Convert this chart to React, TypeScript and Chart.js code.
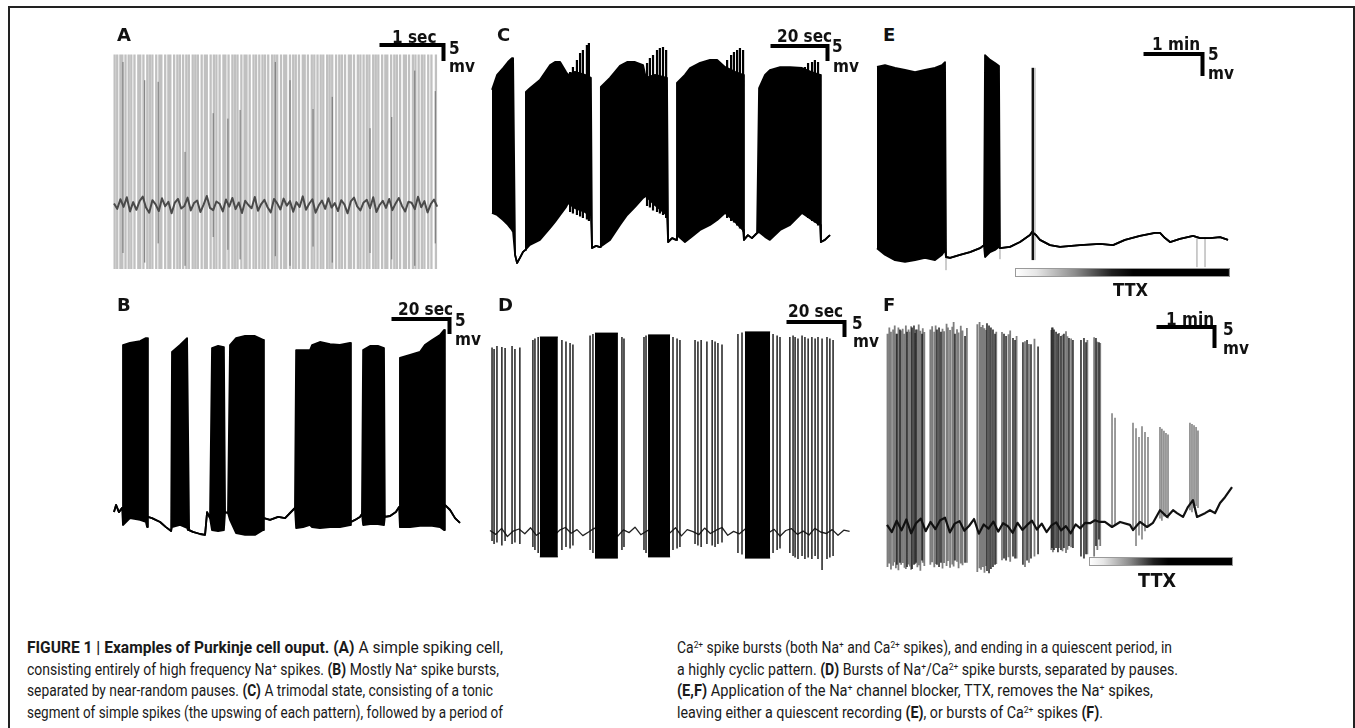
import React, { useEffect, useLayoutEffect, useRef } from "react";
import { Chart, registerables } from "chart.js";
Chart.register(...registerables);

// ======================= DATA =======================
// Scale bars (A..F): time length and voltage length
const scaleBarTime = [1, 20, 20, 20, 60, 60]; // s
const scaleBarMv = [5, 5, 5, 5, 5, 5]; // mV

// ---- Panel A: simple spiking (time in s, voltage in mV rel. baseline)
const aSpikeTimes = [
  0.01, 0.05, 0.1, 0.13, 0.18, 0.23, 0.27, 0.32, 0.38, 0.41, 0.46, 0.52, 0.56, 0.6, 0.66, 0.71, 0.74, 0.8, 0.85, 0.88,
  0.94, 0.99, 1.03, 1.08, 1.13, 1.17, 1.23, 1.27, 1.31, 1.37, 1.42, 1.45, 1.51, 1.56, 1.6, 1.65, 1.71, 1.74, 1.79, 1.85,
  1.89, 1.93, 1.99, 2.04, 2.07, 2.12, 2.18, 2.22, 2.27, 2.32, 2.36, 2.41, 2.47, 2.51, 2.55, 2.61, 2.66, 2.69, 2.75, 2.8,
  2.84, 2.89, 2.95, 2.98, 3.03, 3.09, 3.13, 3.18, 3.23, 3.27, 3.33, 3.37, 3.41, 3.47, 3.52, 3.56, 3.61, 3.67, 3.7, 3.75,
  3.81, 3.85, 3.9, 3.95, 3.99, 4.05, 4.09, 4.13, 4.19, 4.24, 4.27, 4.33, 4.38, 4.42, 4.47, 4.53, 4.56, 4.61, 4.67, 4.71,
  4.76, 4.81, 4.85, 4.91, 4.96, 5.03,
];
const aSpikePeak = 47;
const aSpikeTrough = -20;
const aDarkSpikeTimes = [0.14, 0.48, 0.69, 1.11, 1.55, 1.78, 1.97, 2.52, 2.75, 3.11, 3.41, 4.0, 4.34, 4.7, 5.02];
const aDarkSpikePeaks = [44.7, 39, 38.5, 16.6, 28.7, 27, 29.7, 44.7, 39, 30, 33.8, 24, 27.5, 42, 35.6];
const aDarkSpikeTroughs = [-15, -18, -12, -19, -10, -14, -17, -16, -19, -13, -18, -15, -17, -19, -12];
const aBaselineStep = 0.05; // s between samples
const aBaseline = [
  0.5, -1.2, 1.8, -0.6, 2.4, -2.0, 0.9, -1.5, 1.2, 2.6, -0.8, -2.4, 1.5, 0.2, -1.9, 2.1, -0.4, 1.0, -2.6, 0.7,
  1.9, -1.1, -0.3, 2.3, -1.7, 0.6, 1.4, -2.2, 0.1, 2.8, -0.9, -1.6, 1.1, 0.4, -2.0, 1.7, -0.5, 2.2, -1.3, 0.8,
  -2.5, 1.3, 0.0, -1.0, 2.5, -1.8, 0.3, 1.6, -0.7, -2.3, 1.9, 0.5, -1.4, 2.0, -0.2, 1.2, -2.1, 0.9, -0.6, 2.7,
  -1.5, 0.4, 1.8, -2.4, -0.1, 1.4, -1.2, 2.1, -0.8, 0.6, -1.9, 1.5, 0.2, -2.6, 1.1, 2.3, -0.4, -1.7, 0.8, 1.6,
  -1.0, 2.4, -2.2, 0.0, 1.3, -0.9, 1.9, -1.6, 0.5, 2.2, -0.3, -2.0, 1.0, 0.7, -1.3, 2.6, -0.7, 1.2, -2.3, 0.3,
  1.7, -0.5,
];

// ---- Panel B: burst envelope (s, mV)
const bTime = [
  0, 0.7, 1.7, 2.8, 3.1, 5.5, 9.0, 11.0, 11.4, 11.7, 13.1, 15.9, 17.9, 19.7, 20.0, 22.8, 25.2, 25.5, 25.9, 27.2,
  29.7, 31.4, 32.1, 33.1, 33.8, 35.9, 37.9, 38.3, 39.3, 40.0, 42.1, 45.2, 48.6, 51.4, 51.7, 53.8, 56.6, 59.0, 61.7, 62.4,
  62.8, 65.2, 67.6, 68.3, 71.0, 74.5, 77.9, 81.4, 81.7, 83.1, 84.8, 85.5, 85.9, 88.3, 91.0, 93.1, 93.4, 95.2, 97.2, 98.3,
  98.6, 102.1, 105.5, 107.2, 109.7, 112.4, 113.8, 114.1, 115.9, 117.6, 119.3,
];
const bUpper = [
  4.3, 6.7, 4.3, 5.7, 60, 60.7, 61.3, 62.3, 62.3, 2.7, 2.3, 1, -0.7, -2, 57.7, 60, 62.3, 62.3, -1.7, -2.3,
  -3, -3.3, 4.3, 2.3, 59, 59.7, 59.3, 4.3, 4, 60, 62.3, 63, 63, 61.7, 2.3, 1.7, 2.7, 2.3, 5, 5.7,
  58.3, 58.3, 58.3, 60, 61, 60.3, 60, 60.7, 1, 1.7, 2.7, 3.7, 58.3, 59.7, 59.7, 59, 2.7, 3, 4.3, 6,
  55.7, 56.7, 57.7, 60, 61.7, 63.3, 65, 6.7, 5, 2.3, 0.7,
];
const bLower = [
  4.3, 6.7, 4.3, 5.7, 0, 2.3, 1.7, 1, -0.7, 2.7, 2.3, 1, -0.7, -2, -0.7, 0, -1, -1.7, -1.7, -2.3,
  -3, -3.3, 4.3, 2.3, -1.7, -2, -1.7, 4.3, 4, 1.7, -2.7, -3.3, -3.3, -1.7, 2.3, 1.7, 2.7, 2.3, 5, 5.7,
  -1, -0.7, 0, -0.7, -1, -0.7, -0.7, 0, 1, 1.7, 2.7, 3.7, 0, 0.3, 0.3, 0, 2.7, 3, 4.3, 6,
  -0.7, -0.7, -0.3, -0.3, -0.3, -0.7, -1.7, 6.7, 5, 2.3, 0.7,
];

// ---- Panel C: trimodal envelope (s, mV) + Ca2+ burst spikes
const cTime = [
  0, 1.8, 3.9, 5.6, 7.0, 7.4, 8.1, 8.8, 9.8, 10.9, 11.6, 11.9, 13.3, 16.8, 20.4, 22.1, 23.9, 26.0, 26.7, 29.1,
  32.6, 34.7, 35.1, 36.5, 37.9, 38.2, 41.4, 44.9, 47.4, 50.2, 53.0, 54.0, 57.2, 61.4, 61.8, 63.2, 64.6, 64.9, 67.7, 69.5,
  73.0, 76.5, 79.0, 81.8, 85.3, 88.1, 88.4, 89.8, 91.2, 93.0, 93.7, 95.8, 97.5, 101.1, 104.6, 108.8, 111.9, 115.1, 115.4, 116.8,
  117.9, 118.6,
];
const cUpper = [
  57.7, 62.7, 65, 67, 68.3, 68.3, 2.7, 0, 1.7, 3.7, 4.3, 57, 58.3, 61, 66, 67, 67, 63.7, 62.7, 63.7,
  62.7, 61.7, 5, 5.7, 5.3, 58.7, 61.7, 65.7, 67, 67, 66, 61.7, 62.7, 61.7, 7, 8.3, 7.7, 60, 62.7, 65,
  66.7, 67.7, 67.7, 65.3, 63.7, 62.7, 7.7, 9.3, 8.3, 10, 58.3, 62.7, 64.3, 65.3, 65.3, 65, 63.7, 62.7, 7, 7.7,
  8.7, 9.3,
];
const cLower = [
  16.7, 16, 14.3, 12.7, 11, 10.3, 2.7, 0, 1.7, 3.7, 4.3, 4.3, 6, 7.7, 11.7, 13.7, 16, 18.7, 20, 18.3,
  17, 15.7, 5, 5.7, 5.3, 5.3, 7.7, 12.7, 16, 18.7, 21.7, 22.3, 19.3, 16, 7, 8.3, 7.7, 9.3, 7, 8.3,
  11, 12.7, 14.3, 16.7, 13.7, 11, 7.7, 9.3, 8.3, 10, 10.3, 8.7, 7.7, 11, 12.7, 16.7, 14.7, 12.7, 7, 7.7,
  8.7, 9.3,
];
const cSpikeTimes = [
  27.4, 28.4, 29.8, 30.9, 31.9, 33.3, 34.0, 54.4, 55.4, 56.5, 57.9, 58.9, 60.0, 61.1,
  82.5, 83.9, 84.9, 86.0, 87.0, 88.1, 109.8, 110.9, 112.3, 113.3, 114.4,
];
const cSpikePeaks = [
  63.7, 65.3, 67.7, 70, 71, 72.7, 73.3, 66.7, 68.3, 69.3, 71, 71.7, 72, 71,
  67.7, 69.3, 70.3, 71, 71.7, 71, 65.3, 66.7, 67, 67.7, 67,
];
const cSpikeTroughs = [
  17, 16.5, 16, 15.5, 15, 14.5, 14, 19, 18.5, 17.5, 17, 16.5, 16, 15,
  15, 14, 13.5, 12.5, 11.5, 10.5, 16, 15, 14, 13.5, 12.5,
];

// ---- Panel D: spikes + dense burst cores (s, mV)
const dSpikeTimes = [
  0.7, 1.4, 2.4, 4.1, 5.2, 7.6, 8.6, 10.3,
  14.8, 15.5, 16.6, 24.8, 26.2, 27.6, 28.6,
  34.5, 35.5, 45.5, 46.2,
  53.1, 53.8, 63.1, 64.5, 65.5, 70.7, 71.7, 72.8, 74.8, 76.6, 77.6, 78.6, 80.0,
  85.5, 86.9, 97.6, 99.0, 100.0,
  103.4, 104.5, 105.2, 106.2, 107.6, 108.6, 109.7, 111.0, 112.1, 113.1, 114.5, 116.2, 117.2, 118.3,
];
const dSpikePeaks = [
  61.5, 61, 62, 61.7, 61.3, 62, 61, 61.5,
  64, 64.5, 65, 64, 63.5, 63, 62.5,
  65.5, 66, 65, 64.5,
  65, 65.5, 65, 64.5, 64, 64, 63.5, 64, 63.5, 64, 63.5, 63, 62.5,
  66, 66.5, 66, 65.5, 65,
  65, 65.5, 65, 64.5, 65.5, 65, 64.5, 65, 64.5, 65, 64.5, 65, 64.5, 64,
];
const dSpikeTroughs = [
  -3, -4, -3.5, -4.5, -3, -4, -3.5, -4,
  -5, -6, -7, -6, -5, -5.5, -4.5,
  -6, -7, -6, -5,
  -6, -7, -6, -5.5, -5, -4, -4.5, -5, -4, -4.5, -5, -4, -3.5,
  -7, -7.5, -7, -6, -5.5,
  -7, -8, -8.5, -9, -8, -9, -8.5, -9, -8, -9, -12.7, -9, -8.5, -8,
];
const dCoreStart = [17.2, 36.2, 54.5, 87.9];
const dCoreEnd = [23.4, 44.1, 62.1, 96.6];
const dCorePeak = [65, 66.3, 65.7, 66.7];
const dCoreTrough = [-8.3, -8.7, -8.3, -8.7];
const dBaselineStep = 2; // s
const dBaseline = [
  0.5, -0.8, 1.2, -1.5, 0.3, 1.0, -0.6, 1.4, -1.1, 0.2, 0.9, -1.3, 0.6, 1.5, -0.4, 0.8, -1.2, 0.0, 1.3, -0.7,
  0.4, 1.1, -1.4, 0.7, -0.2, 1.6, -0.9, 0.3, 1.2, -1.0, 0.5, -0.3, 1.4, -1.3, 0.8, 0.1, -0.9, 1.3, -0.5, 0.6,
  1.5, -1.1, 0.2, -0.6, 1.0, 0.4, -1.2, 1.3, -0.3, 0.9, -1.4, 0.5, 1.1, -0.8, 0.3, -1.0, 1.2, 0.0, -0.5, 0.8,
  -1.1, 0.6, 0.2,
];

// ---- Panel E: TTX abolishes firing (s, mV)
const eTime = [
  0, 8.1, 18.3, 28.5, 38.7, 48.8, 59.0, 66.1, 69.2, 70.2, 74.3, 84.4, 94.6, 104.8, 108.8, 109.9, 115.0, 120.0, 124.1, 125.1,
  135.3, 145.5, 155.6, 157.7, 161.7, 165.8, 176.0, 186.2, 206.5, 226.9, 240.1, 252.3, 267.5, 282.8, 287.9, 293.0, 298.1, 308.2, 321.5, 328.7,
  338.8, 349.0, 357.1,
];
const eUpper = [
  43.2, 43.6, 43, 42.5, 42, 42.5, 43, 43.6, 44.3, 0, -0.2, 0.5, 1.1, 2, 2.7, 45.9, 44.8, 44.1, 43.4, 2,
  2.3, 3.4, 5, 5.7, 5, 3.9, 2.7, 2.3, 2.7, 3, 2.7, 3.9, 4.8, 5.5, 5.5, 4.3, 3.4, 4.1, 4.8, 4.3,
  4.3, 4.5, 3.9,
];
const eLower = [
  2, 0.5, -0.7, -1.1, -0.7, -0.2, -0.7, 0.5, 1.6, 0, -0.2, 0.5, 1.1, 2, 2.7, 0, 1.1, 1.6, 2.3, 2,
  2.3, 3.4, 5, 5.7, 5, 3.9, 2.7, 2.3, 2.7, 3, 2.7, 3.9, 4.8, 5.5, 5.5, 4.3, 3.4, 4.1, 4.8, 4.3,
  4.3, 4.5, 3.9,
];
const eSpikeTimes = [158.7];
const eSpikePeaks = [43];
const eSpikeTroughs = [-0.7];
const eFaintTimes = [70.2, 125.1, 157.2, 160.7, 325.5, 333.7];
const eFaintPeaks = [1.6, 2, 43, 43, 4.3, 4.5];
const eFaintTroughs = [-3, -0.5, -0.7, -0.7, -2.3, -2.3];
const eTTX = [140.4, 359]; // s

// ---- Panel F: TTX leaves Ca2+ bursts (s, mV)
const fGraySpikeTimes = [
  0.5, 2.4, 4.1, 6.3, 8.0, 9.2, 11.8, 14.6, 16.2, 18.1, 19.5, 22.3, 23.8, 24.9, 29.1, 31.4, 32.8, 34.5, 37.0, 38.6,
  44.8, 46.7, 48.9, 50.3, 57.4, 59.1, 61.6, 63.0, 65.2, 67.5, 68.9, 72.4, 74.0, 76.3, 78.1, 82.6,
  93.4, 95.7, 97.2, 99.0, 100.8, 102.1, 113.0,
  118.9, 125.6, 127.4, 134.0,
  142.7, 146.8, 152.5,
  169.9, 171.6, 178.0, 181.5, 185.1, 186.6, 190.4,
  207.2, 214.2, 217.5, 220.5,
];
const fGraySpikePeaks = [
  46, 47.5, 46.5, 47, 48, 46, 47.5, 46.8, 47.2, 46, 48, 47, 46.5, 47.8, 46.2, 47, 48.2, 46.7, 47.3, 46.4,
  47, 47.8, 46.5, 48, 47.2, 46.6, 48.4, 47.5, 46.9, 47.7, 48.8, 47.1, 46.3, 47.9, 46.8, 47.4,
  48.3, 48.8, 47.6, 48.1, 47.3, 46.9, 46.5,
  46.4, 45.9, 46.8, 45.5,
  44.2, 43.6, 44.8,
  46.9, 47.5, 46.2, 45.8, 46.6, 45.4, 44.9,
  44.5, 45.2, 44.1, 43.8,
];
const fGraySpikeTroughs = [
  -9.5, -8.7, -10.1, -9.2, -8.4, -9.8, -10.3, -9.0, -8.6, -9.7, -10.0, -8.9, -9.4, -10.2, -8.8, -9.6, -9.1, -10.4, -8.5, -9.3,
  -9, -8.4, -9.6, -8.8, -9.9, -8.6, -9.3, -8.1, -9.7, -8.9, -9.4, -8.3, -9.8, -8.7, -9.1, -8.5,
  -10.7, -9.8, -10.2, -9.5, -10.9, -9.3, -8.8,
  -7.9, -7.2, -8.3, -7.5,
  -9.5, -8.5, -7,
  -5.5, -6, -5, -5.8, -6.2, -5.4, -4.8,
  -6.5, -7, -5.5, -4.5,
];
const fSpikeTimes = [
  10.3, 13.4, 20.7, 25.9, 27.9, 30.0, 36.2, 51.7, 53.8, 55.8, 70.3, 80.7, 103.4, 105.5, 107.5, 109.6, 111.7, 121.0, 123.1, 130.3,
  132.4, 140.6, 144.8, 148.9, 156.2, 170.6, 172.7, 174.8, 176.8, 179.9, 183.0, 188.2, 192.3, 200.6, 203.7, 205.8, 216.1, 219.2,
];
const fSpikePeaks = [
  46, 47, 46.5, 47.5, 48, 47, 46, 47, 47.5, 46.5, 46, 45.5, 48.5, 48, 47.5, 47, 46, 46, 45.5, 45,
  44.5, 44, 44.5, 43.5, 43, 47.5, 47, 46.5, 46, 45.5, 46, 45, 44.5, 44.5, 45, 44, 45, 44,
];
const fSpikeTroughs = [
  -9, -8.5, -9.5, -10, -9, -8.5, -8, -9, -9.5, -8.5, -8, -8.5, -10.5, -11, -10, -9.5, -9, -7.5, -8, -7,
  -7.5, -9, -8, -7.5, -6.5, -5, -5.5, -5, -6, -5.5, -5, -4.5, -5, -7, -7.5, -6.5, -4.5, -3,
];
const fCaSpikeTimes = [232.7, 235.8, 254.4, 257.5, 260.6, 263.7, 266.8, 269.9, 282.3, 284.3, 286.4, 288.5, 290.6, 313.3, 315.4, 317.5, 319.6, 321.6];
const fCaSpikePeaks = [27.1, 26, 24.8, 23.5, 21.4, 24, 22.6, 21.4, 23.8, 23.4, 22.9, 22.4, 22, 24.8, 24.5, 24.2, 23.8, 23];
const fCaSpikeTroughs = [0, 0.5, -1, -4.5, -2, -3, -1, 0, 2, 1.5, 2.5, 3, 2, 4, 3.5, 4.5, 5, 4.5];
const fBaseTime = [
  0, 5, 10, 15, 20, 25, 30, 35, 40, 45, 50, 55, 60, 65, 70, 75, 80, 85, 90, 95,
  100, 105, 110, 115, 120, 125, 130, 135, 140, 145, 150, 155, 160, 165, 170, 175, 180, 185, 190, 195,
  200, 205, 210, 215, 220, 225.4, 232.7, 241, 251.3, 254.4, 261.6, 268.9, 275.1, 282.3, 289.6, 295.8, 299.9, 306.1, 311.3, 316.4,
  320.6, 328.9, 334, 339.2, 344.4, 349.5, 356.8,
];
const fBaseV = [
  0.5, -1.2, 1.5, -0.8, 1.8, -1.5, 0.9, 2.0, -1.0, 1.2, -0.5, 1.6, 2.2, -1.3, 0.8, 1.4, -0.9, 0.3, 1.9, -1.6,
  0.6, -0.4, 1.3, -1.1, 0.9, 0.2, -1.4, 1.0, -0.7, 0.5, 1.5, -0.6, 0.8, -1.2, 0.4, 1.1, -0.8, 0.2, -1.5, 0.6,
  -0.3, 1.0, 0.9, 1.6, 1.2, 1.2, 0, 1.2, 0.5, -0.7, 1.2, 0, 1, 4, 2.4, 4, 3.3, 2.4, 4.8, 6.4,
  2.4, 3.3, 4, 3.3, 5.7, 7.1, 9.5,
];
const fTTX = [208.9, 357.8]; // s

// ======================= LAYOUT =======================
type Lay = {
  left: number; top: number; width: number; height: number;
  x0: number; y0: number; pxX: number; pxY: number; barX: number; barY: number; bar: number;
};
const LAY: Record<string, Lay> = {
  A: { left: 106, top: 38, width: 352, height: 240, x0: 114, y0: 205, pxX: 64, pxY: 3.2, barX: 443.5, barY: 45, bar: 0 },
  B: { left: 106, top: 305, width: 360, height: 240, x0: 114, y0: 525, pxX: 2.9, pxY: 3, barX: 449.5, barY: 319, bar: 1 },
  C: { left: 486, top: 38, width: 350, height: 235, x0: 492, y0: 263, pxX: 2.85, pxY: 3, barX: 827.5, barY: 46, bar: 2 },
  D: { left: 484, top: 310, width: 372, height: 265, x0: 490, y0: 532, pxX: 2.9, pxY: 3, barX: 844.5, barY: 322, bar: 3 },
  E: { left: 871, top: 45, width: 365, height: 240, x0: 877, y0: 257, pxX: 0.983, pxY: 4.4, barX: 1202.5, barY: 54, bar: 4 },
  F: { left: 880, top: 310, width: 360, height: 265, x0: 887, y0: 527, pxX: 0.967, pxY: 4.2, barX: 1214.5, barY: 327, bar: 5 },
};

// ======================= DATASET HELPERS =======================
const pts = (xs: number[], ys: number[]) => xs.map((x, i) => ({ x, y: ys[i] }));
const sampled = (vals: number[], step: number) => vals.map((v, i) => ({ x: i * step, y: v }));

function lineDs(data: any[], color: string, width: number, extra: any = {}) {
  return {
    type: "line", data, borderColor: color, borderWidth: width, pointRadius: 0, tension: 0,
    fill: false, spanGaps: false, borderJoinStyle: "round", ...extra,
  };
}
function envelope(t: number[], up: number[], lo: number[], color: string, width: number) {
  return [
    lineDs(pts(t, lo), color, width),
    lineDs(pts(t, up), color, width, { fill: "-1", backgroundColor: color }),
  ];
}
function spikes(t: number[], peaks: number[] | number, troughs: number[] | number, color: string, width: number) {
  const data: any[] = [];
  t.forEach((x, i) => {
    const p = Array.isArray(peaks) ? peaks[i] : peaks;
    const q = Array.isArray(troughs) ? troughs[i] : troughs;
    data.push({ x, y: q }, { x, y: p }, { x, y: null });
  });
  return lineDs(data, color, width, { borderCapStyle: "butt", borderJoinStyle: "miter" });
}
function blocks(s: number[], e: number[], pk: number[], tr: number[], color: string) {
  const out: any[] = [];
  s.forEach((x, i) => {
    out.push(...envelope([x, e[i]], [pk[i], pk[i]], [tr[i], tr[i]], color, 1));
  });
  return out;
}
function scaleBar(l: Lay) {
  const xd = (l.barX - l.x0) / l.pxX;
  const yd = (l.y0 - l.barY) / l.pxY;
  const len = scaleBarTime[l.bar];
  const mv = scaleBarMv[l.bar];
  return lineDs(
    [{ x: xd - len, y: yd }, { x: xd, y: yd }, { x: xd, y: yd - mv }],
    "#000", 4, { borderJoinStyle: "miter", borderCapStyle: "butt" }
  );
}

// ======================= CHART =======================
function TraceChart({ lay, build, ttx, ttxTop }: { lay: Lay; build: () => any[]; ttx?: number[]; ttxTop?: number }) {
  const ref = useRef<HTMLCanvasElement>(null);
  useEffect(() => {
    const canvas = ref.current;
    if (!canvas) return;
    const layers = build();
    const n = layers.length;
    const datasets = layers.map((d, i) => ({ ...d, order: n - i }));
    const plugins: any[] = [];
    if (ttx && ttxTop !== undefined) {
      plugins.push({
        id: "ttxBar",
        afterDatasetsDraw(chart: any) {
          const xs = chart.scales.x;
          const ctx = chart.ctx;
          const x1 = xs.getPixelForValue(ttx[0]);
          const x2 = xs.getPixelForValue(ttx[1]);
          const y = ttxTop - lay.top;
          const h = 9;
          const g = ctx.createLinearGradient(x1, 0, x2, 0);
          g.addColorStop(0, "#ffffff");
          g.addColorStop(0.1, "#e6e6e6");
          g.addColorStop(0.28, "#8c8c8c");
          g.addColorStop(0.45, "#1e1e1e");
          g.addColorStop(0.55, "#000000");
          g.addColorStop(1, "#000000");
          ctx.save();
          ctx.fillStyle = g;
          ctx.fillRect(x1, y, x2 - x1, h);
          ctx.strokeStyle = "#9a9a9a";
          ctx.lineWidth = 1;
          ctx.strokeRect(x1 + 0.5, y + 0.5, x2 - x1 - 1, h - 1);
          ctx.restore();
        },
      });
    }
    const chart = new Chart(canvas, {
      type: "line",
      data: { datasets } as any,
      options: {
        animation: false,
        responsive: false,
        devicePixelRatio: 1,
        events: [],
        layout: { padding: 0 },
        plugins: { legend: { display: false }, tooltip: { enabled: false } },
        scales: {
          x: {
            type: "linear", display: false,
            min: (lay.left - lay.x0) / lay.pxX,
            max: (lay.left + lay.width - lay.x0) / lay.pxX,
          },
          y: {
            type: "linear", display: false,
            min: (lay.y0 - (lay.top + lay.height)) / lay.pxY,
            max: (lay.y0 - lay.top) / lay.pxY,
          },
        },
      } as any,
      plugins,
    });
    return () => chart.destroy();
  }, []);
  return (
    <canvas
      ref={ref}
      width={lay.width}
      height={lay.height}
      style={{ position: "absolute", left: lay.left, top: lay.top, width: lay.width, height: lay.height }}
    />
  );
}

// ======================= TEXT =======================
const LABEL_FONT = '"DejaVu Sans", Verdana, sans-serif';
function Lbl({ x, y, size, sx = 0.9, children }: { x: number; y: number; size: number; sx?: number; children: any }) {
  return (
    <div
      style={{
        position: "absolute", left: x, top: y, fontFamily: LABEL_FONT, fontWeight: 700, fontSize: size,
        lineHeight: `${size}px`, whiteSpace: "nowrap", transform: `scaleX(${sx})`, transformOrigin: "left top", color: "#111",
      }}
    >
      {children}
    </div>
  );
}

const Sup = ({ c }: { c: string }) => (
  <sup style={{ fontSize: "0.6em", verticalAlign: "0.5em", lineHeight: 0 }}>{c}</sup>
);

const captionLines = [
  { x: 27, y: 640, w: 476, c: <><b>FIGURE 1 | Examples of Purkinje cell ouput. (A)</b> A simple spiking cell,</> },
  { x: 27, y: 662, w: 472, c: <>consisting entirely of high frequency Na<Sup c="+" /> spikes. <b>(B)</b> Mostly Na<Sup c="+" /> spike bursts,</> },
  { x: 27, y: 683, w: 466, c: <>separated by near-random pauses. <b>(C)</b> A trimodal state, consisting of a tonic</> },
  { x: 27, y: 705, w: 476, c: <>segment of simple spikes (the upswing of each pattern), followed by a period of</> },
  { x: 677, y: 640, w: 495, c: <>Ca<Sup c="2+" /> spike bursts (both Na<Sup c="+" /> and Ca<Sup c="2+" /> spikes), and ending in a quiescent period, in</> },
  { x: 677, y: 662, w: 501, c: <>a highly cyclic pattern. <b>(D)</b> Bursts of Na<Sup c="+" />/Ca<Sup c="2+" /> spike bursts, separated by pauses.</> },
  { x: 677, y: 683, w: 476, c: <><b>(E,F)</b> Application of the Na<Sup c="+" /> channel blocker, TTX, removes the Na<Sup c="+" /> spikes,</> },
  { x: 677, y: 705, w: 426, c: <>leaving either a quiescent recording <b>(E)</b>, or bursts of Ca<Sup c="2+" /> spikes <b>(F)</b>.</> },
];

function Caption() {
  const refs = useRef<(HTMLDivElement | null)[]>([]);
  useLayoutEffect(() => {
    refs.current.forEach((el, i) => {
      if (!el) return;
      el.style.transform = "none";
      const w = el.getBoundingClientRect().width;
      if (w > 0) el.style.transform = `scaleX(${captionLines[i].w / w})`;
    });
  }, []);
  return (
    <>
      {captionLines.map((ln, i) => (
        <div
          key={i}
          ref={(el) => { refs.current[i] = el; }}
          style={{
            position: "absolute", left: ln.x, top: ln.y, fontFamily: "Roboto, 'Liberation Sans', sans-serif",
            fontSize: 16.5, lineHeight: "16.5px", whiteSpace: "nowrap", color: "#1a1a1a", transformOrigin: "left top",
            display: "inline-block",
          }}
        >
          {ln.c}
        </div>
      ))}
    </>
  );
}

// ======================= APP =======================
export default function App() {
  const A = LAY.A, B = LAY.B, C = LAY.C, D = LAY.D, E = LAY.E, F = LAY.F;
  return (
    <div style={{ position: "absolute", left: 0, top: 0, width: 1355, height: 728, overflow: "hidden", background: "#fff" }}>
      <div
        style={{
          position: "absolute", left: 8, top: 6, width: 1347, height: 760, boxSizing: "border-box",
          borderTop: "2px solid #222", borderLeft: "2px solid #222", borderRight: "2px solid #222",
        }}
      />
      <TraceChart
        lay={A}
        build={() => [
          spikes(aSpikeTimes, aSpikePeak, aSpikeTrough, "#c0c0c0", 2.3),
          spikes(aDarkSpikeTimes, aDarkSpikePeaks, aDarkSpikeTroughs, "#707070", 1),
          lineDs(sampled(aBaseline, aBaselineStep), "#4a4a4a", 2),
          scaleBar(A),
        ]}
      />
      <TraceChart lay={B} build={() => [...envelope(bTime, bUpper, bLower, "#000", 1.8), scaleBar(B)]} />
      <TraceChart
        lay={C}
        build={() => [
          ...envelope(cTime, cUpper, cLower, "#000", 1.8),
          spikes(cSpikeTimes, cSpikePeaks, cSpikeTroughs, "#000", 2.2),
          scaleBar(C),
        ]}
      />
      <TraceChart
        lay={D}
        build={() => [
          lineDs(sampled(dBaseline, dBaselineStep), "#222", 1.3),
          ...blocks(dCoreStart, dCoreEnd, dCorePeak, dCoreTrough, "#000"),
          spikes(dSpikeTimes, dSpikePeaks, dSpikeTroughs, "#111", 1.4),
          scaleBar(D),
        ]}
      />
      <TraceChart
        lay={E}
        ttx={eTTX}
        ttxTop={268}
        build={() => [
          spikes(eFaintTimes, eFaintPeaks, eFaintTroughs, "#9a9a9a", 1),
          ...envelope(eTime, eUpper, eLower, "#000", 1.8),
          spikes(eSpikeTimes, eSpikePeaks, eSpikeTroughs, "#111", 2),
          scaleBar(E),
        ]}
      />
      <TraceChart
        lay={F}
        ttx={fTTX}
        ttxTop={557}
        build={() => [
          spikes(fGraySpikeTimes, fGraySpikePeaks, fGraySpikeTroughs, "#7d7d7d", 1.8),
          spikes(fSpikeTimes, fSpikePeaks, fSpikeTroughs, "#111", 1.4),
          spikes(fCaSpikeTimes, fCaSpikePeaks, fCaSpikeTroughs, "#5a5a5a", 1.2),
          lineDs(pts(fBaseTime, fBaseV), "#111", 2.2),
          scaleBar(F),
        ]}
      />

      {/* panel letters */}
      <Lbl x={117} y={26} size={18} sx={1}>A</Lbl>
      <Lbl x={117} y={296} size={18} sx={1}>B</Lbl>
      <Lbl x={497} y={26} size={18} sx={1}>C</Lbl>
      <Lbl x={498} y={296} size={18} sx={1}>D</Lbl>
      <Lbl x={883} y={26} size={18} sx={1}>E</Lbl>
      <Lbl x={883} y={296} size={18} sx={1}>F</Lbl>

      {/* scale bar labels */}
      <Lbl x={392} y={29} size={17}>1 sec</Lbl>
      <Lbl x={449} y={40} size={17}>5</Lbl>
      <Lbl x={449} y={58} size={17}>mv</Lbl>

      <Lbl x={398} y={301} size={17}>20 sec</Lbl>
      <Lbl x={455} y={312} size={17}>5</Lbl>
      <Lbl x={455} y={331} size={17}>mv</Lbl>

      <Lbl x={777} y={28} size={17}>20 sec</Lbl>
      <Lbl x={832} y={38} size={17}>5</Lbl>
      <Lbl x={833} y={58} size={17}>mv</Lbl>

      <Lbl x={788} y={303} size={17}>20 sec</Lbl>
      <Lbl x={852} y={315} size={17}>5</Lbl>
      <Lbl x={853} y={333} size={17}>mv</Lbl>

      <Lbl x={1152} y={36} size={17}>1 min</Lbl>
      <Lbl x={1208} y={46} size={17}>5</Lbl>
      <Lbl x={1208} y={65} size={17}>mv</Lbl>

      <Lbl x={1166} y={311} size={17}>1 min</Lbl>
      <Lbl x={1223} y={321} size={17}>5</Lbl>
      <Lbl x={1223} y={340} size={17}>mv</Lbl>

      <Lbl x={1113} y={281} size={18}>TTX</Lbl>
      <Lbl x={1138} y={570} size={20} sx={0.88}>TTX</Lbl>

      <Caption />
    </div>
  );
}
